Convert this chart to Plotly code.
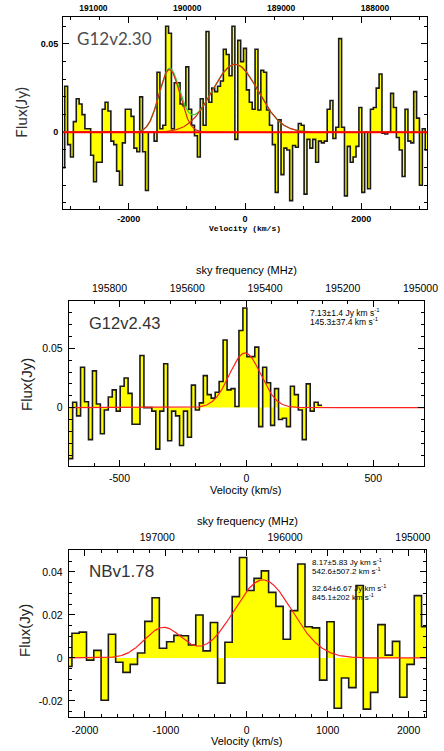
import numpy as np
import plotly.graph_objects as go

W, H = 444, 751

# ---------------- data ----------------
# Panel 1 : G12v2.30  (velocity channels, flux in Jy)
p1_vel_start = -3150.0
p1_chan_width = 49.6
p1_flux = [
    -0.020, 0.026, -0.007, -0.014, 0.006, 0.019, 0.016, 0.010, 0.002, 0.002,
    -0.013, -0.028, -0.017, -0.017, 0.013, 0.017, 0.012, -0.005, -0.007, -0.022,
    -0.030, -0.006, 0.013, 0.013, 0.009, -0.009, -0.011, 0.020, -0.011, -0.033,
    0.000, 0.000, -0.005, 0.034, 0.002, 0.004, 0.060, 0.056, 0.002, 0.028,
    0.028, 0.016, 0.015, 0.037, 0.013, 0.004, -0.002, -0.014, 0.019, 0.004,
    0.057, 0.017, 0.025, 0.023, 0.026, 0.029, 0.047, 0.044, 0.032,
    0.060, -0.004, 0.052, 0.040, 0.0475, 0.024, 0.017, 0.013, 0.047, 0.0126,
    0.035, 0.034, 0.0126, 0.004, -0.007, -0.034, 0.007, -0.024, -0.009, -0.010,
    -0.0387, -0.0075, -0.0085, 0.005, 0.004, -0.035, -0.004, -0.009, -0.004, -0.017,
    -0.005, -0.006, -0.005, 0.013, 0.018, -0.0035, 0.0028, 0.053, 0.0028, -0.036,
    -0.008, -0.017, -0.014, -0.008, 0.014, -0.034, 0.000, -0.032, 0.013, 0.014,
    0.025, 0.033, -0.0005, -0.001, 0.000, 0.022, 0.014, -0.003, -0.010, -0.025,
    0.013, -0.005, -0.006, 0.023, 0.008, -0.030, 0.002, -0.010,
]
p1_line_center = [-1300.0, -170.0]
p1_line_peak = [0.0355, 0.0385]
p1_line_fwhm = [420.0, 930.0]
p1_freq_ticks = [191000, 190000, 189000, 188000]

# Panel 2 : G12v2.43
p2_vel_start = -700.0
p2_chan_width = 15.6
p2_flux = [
    -0.043, 0.0045, -0.007, 0.034, 0.005, -0.027, 0.031, 0.003, -0.022, -0.002,
    0.009, 0.015, -0.003, 0.018, 0.025, 0.012, -0.014, -0.014, 0.044, 0.000,
    0.000, -0.003, -0.035, -0.003, 0.037, -0.028, -0.003, -0.007, -0.032, -0.003,
    -0.025, 0.019, -0.002, 0.004, 0.027, 0.011, 0.008, 0.013, 0.022, 0.057,
    0.015, 0.016, 0.001, 0.065, 0.084, 0.043, 0.043, 0.051, -0.016, 0.034,
    0.021, -0.015, 0.016, -0.010, -0.009, -0.016, 0.018, 0.011, -0.002, -0.027,
    0.020, -0.003, 0.0045, 0.002,
]
p2_line_center = [-5.0]
p2_line_peak = [0.0461]
p2_line_fwhm = [145.3]
p2_freq_ticks = [195800, 195600, 195400, 195200, 195000]

# Panel 3 : NBv1.78
p3_vel_start = -2250.0
p3_chan_width = 90.0
p3_flux = [
    -0.004, 0.0115, 0.012, -0.001, 0.0035, -0.0197, 0.011, -0.002, -0.0067, -0.003,
    0.0023, 0.017, 0.028, 0.0045, 0.0075, 0.0105, 0.0103, 0.006, 0.020, 0.0033,
    0.0165, -0.0117, 0.0073, 0.0285, 0.0467, 0.0314, 0.037, 0.0405, 0.0305, 0.024,
    0.0087, 0.022, 0.0437, 0.0145, 0.014, -0.0103, 0.0168, -0.0234, -0.0093, -0.0138,
    0.0337, -0.0238, -0.016, 0.0155, 0.0013, 0.0077, -0.0183, -0.003, 0.029, 0.0145,
]
p3_line_center = [-1030.0, 200.0]
p3_line_peak = [0.01415, 0.0363]
p3_line_fwhm = [542.6, 845.1]
p3_freq_ticks = [197000, 196000, 195000]

# ---------------- helpers ----------------
def px_x(px):
    return px / W


def px_y(py):
    return 1 - py / H


def steps(start, width, flux):
    edges = start + width * np.arange(len(flux) + 1)
    return edges, list(flux) + [flux[-1]]


def gauss(v, c, a, fwhm):
    return a * np.exp(-4 * np.log(2) * (v - c) ** 2 / fwhm ** 2)


YELLOW = "#FFFF00"
OUTLINE = "#1a1a1a"

fig = go.Figure()

panels = [
    dict(xa="x", ya="y", fx="x2", start=p1_vel_start, width=p1_chan_width, flux=p1_flux,
         c=p1_line_center, a=p1_line_peak, f=p1_line_fwhm, vr=[-3130, 3130],
         box=(63, 427, 16.7, 209.3), yr=[-0.0436, 0.0654], fr=[191324, 187446],
         ftick=p1_freq_ticks, ytv=[0, 0.05], ytt=["0", "0.05"], ydm=0.01,
         xtv=[-2000, 0, 2000], xdm=500),
    dict(xa="x3", ya="y2", fx="x4", start=p2_vel_start, width=p2_chan_width, flux=p2_flux,
         c=p2_line_center, a=p2_line_peak, f=p2_line_fwhm, vr=[-700, 700],
         box=(68.7, 424, 300.7, 465.7), yr=[-0.049, 0.0902], fr=[195905, 194991],
         ftick=p2_freq_ticks, ytv=[0, 0.05], ytt=["0", "0.05"], ydm=0.01,
         xtv=[-500, 0, 500], xdm=100),
    dict(xa="x5", ya="y3", fx="x6", start=p3_vel_start, width=p3_chan_width, flux=p3_flux,
         c=p3_line_center, a=p3_line_peak, f=p3_line_fwhm, vr=[-2200, 2215],
         box=(68.7, 426, 550, 717.3), yr=[-0.0276, 0.0502], fr=[197693, 194897],
         ftick=p3_freq_ticks, ytv=[-0.02, 0, 0.02, 0.04], ytt=["-0.02", "0", "0.02", "0.04"],
         ydm=0.005, xtv=[-2000, -1000, 0, 1000, 2000], xdm=200),
]

for i, p in enumerate(panels):
    ex, ey = steps(p["start"], p["width"], p["flux"])
    fig.add_trace(go.Scatter(x=ex, y=ey, xaxis=p["xa"], yaxis=p["ya"], mode="lines",
                             line=dict(shape="hv", color=OUTLINE, width=1.6),
                             fill="tozeroy", fillcolor=YELLOW, hoverinfo="skip",
                             showlegend=False))
    vgrid = np.linspace(p["vr"][0], p["vr"][1], 800)
    comps = [gauss(vgrid, c, a, f) for c, a, f in zip(p["c"], p["a"], p["f"])]
    if i == 0:
        fig.add_trace(go.Scatter(x=vgrid, y=sum(comps), xaxis=p["xa"], yaxis=p["ya"],
                                 mode="lines", line=dict(color="#3ad13a", width=1.3),
                                 hoverinfo="skip", showlegend=False))
        for comp in comps:
            fig.add_trace(go.Scatter(x=vgrid, y=comp, xaxis=p["xa"], yaxis=p["ya"],
                                     mode="lines", line=dict(color="#d42a10", width=1.2),
                                     hoverinfo="skip", showlegend=False))
    else:
        fig.add_trace(go.Scatter(x=vgrid, y=sum(comps), xaxis=p["xa"], yaxis=p["ya"],
                                 mode="lines", line=dict(color="#ff1f1f", width=1.2),
                                 hoverinfo="skip", showlegend=False))
    # dummy trace to carry the frequency axis
    fig.add_trace(go.Scatter(x=p["fr"], y=[0, 0], xaxis=p["fx"], yaxis=p["ya"], mode="lines",
                             line=dict(width=0), opacity=0, hoverinfo="skip", showlegend=False))

# red zero line across panel 1
fig.add_shape(type="line", xref="x domain", yref="y", x0=0, x1=1, y0=0, y1=0,
              line=dict(color="#ff0000", width=2))

layout = dict(width=W, height=H, autosize=False,
              margin=dict(l=0, r=0, t=0, b=0, pad=0, autoexpand=False),
              paper_bgcolor="white", plot_bgcolor="white", showlegend=False)

bold = [True, False, False]
tsize = [9, 10.5, 10.5]
fsize = [8.5, 10.5, 10.5]
for i, p in enumerate(panels):
    x0, x1, y0, y1 = p["box"]
    xname = "xaxis" if p["xa"] == "x" else "xaxis" + p["xa"][1:]
    yname = "yaxis" if p["ya"] == "y" else "yaxis" + p["ya"][1:]
    fname = "xaxis" + p["fx"][1:]
    tf = dict(family="Liberation Sans", size=tsize[i], color="black",
              weight="bold" if bold[i] else "normal")
    ff = dict(family="Liberation Sans", size=fsize[i], color="black",
              weight="bold" if bold[i] else "normal")
    layout[xname] = dict(domain=[px_x(x0), px_x(x1)], anchor=p["ya"], range=p["vr"],
                         tickmode="array", tickvals=p["xtv"],
                         ticktext=[str(v) for v in p["xtv"]],
                         ticks="inside", ticklen=6, tickcolor="black", tickwidth=1,
                         minor=dict(ticks="inside", dtick=p["xdm"], tick0=0, ticklen=3,
                                    tickcolor="black"),
                         showline=True, linecolor="black", linewidth=1, mirror="ticks",
                         showgrid=False, zeroline=False, tickfont=tf, automargin=False,
                         ticklabelstandoff=1 if i == 0 else 3)
    layout[yname] = dict(domain=[px_y(y1), px_y(y0)], anchor=p["xa"], range=p["yr"],
                         tickmode="array", tickvals=p["ytv"], ticktext=p["ytt"],
                         ticks="inside", ticklen=6, tickcolor="black", tickwidth=1,
                         minor=dict(ticks="inside", dtick=p["ydm"], tick0=0, ticklen=3,
                                    tickcolor="black"),
                         showline=True, linecolor="black", linewidth=1, mirror="ticks",
                         showgrid=False, zeroline=False, tickfont=tf, automargin=False,
                         ticklabelstandoff=2 if i == 0 else 3)
    layout[fname] = dict(overlaying=p["xa"], side="top", anchor=p["ya"], range=p["fr"],
                         tickmode="array", tickvals=p["ftick"],
                         ticktext=[str(v) for v in p["ftick"]], ticks="",
                         showline=False, showgrid=False, zeroline=False, tickfont=ff,
                         automargin=False, ticklabelstandoff=3 if i == 0 else 6)

fig.update_layout(**layout)


def ann(text, x, y, size, family="Liberation Sans", color="black", xanchor="center",
        angle=0, weight="normal"):
    fig.add_annotation(text=text, x=px_x(x), y=px_y(y), xref="paper", yref="paper",
                       xanchor=xanchor, yanchor="middle", showarrow=False,
                       textangle=angle,
                       font=dict(family=family, size=size, color=color, weight=weight))


# Panel 1 texts
ann("G12v2.30", 75, 38.5, 17, family="Lato", color="#4d4d4d", xanchor="left")
ann("Flux(Jy)", 21, 113, 15.5, family="Lato", color="#333333", angle=-90)
ann("Velocity (km/s)", 245, 228.5, 8, family="Liberation Mono", weight="bold")

# Panel 2 texts
ann("sky frequency (MHz)", 246.7, 270, 11)
ann("G12v2.43", 87, 322.5, 16.5, color="#333333", xanchor="left")
ann("7.13±1.4 Jy km s<sup>-1</sup>", 308, 312, 8.5, xanchor="left")
ann("145.3±37.4 km s<sup>-1</sup>", 308, 321.5, 8.5, xanchor="left")
ann("Flux(Jy)", 26, 385, 15, color="#222222", angle=-90)
ann("Velocity (km/s)", 246, 489.5, 11)

# Panel 3 texts
ann("sky frequency (MHz)", 247, 521, 11)
ann("NBv1.78", 87, 571.5, 17, color="#333333", xanchor="left")
ann("8.17±5.83 Jy km s<sup>-1</sup>", 310, 562, 8, xanchor="left")
ann("542.6±507.2 km s<sup>-1</sup>", 310, 570.5, 8, xanchor="left")
ann("32.64±6.67 Jy km s<sup>-1</sup>", 310, 588, 8, xanchor="left")
ann("845.1±202 km s<sup>-1</sup>", 310, 597, 8, xanchor="left")
ann("Flux(Jy)", 24, 631, 15, color="#222222", angle=-90)
ann("Velocity (km/s)", 247, 741, 11)

fig.write_html(
    "out.html",
    config={"displayModeBar": False, "responsive": False},
    post_script="document.body.style.margin='0';document.body.style.padding='0';",
)
